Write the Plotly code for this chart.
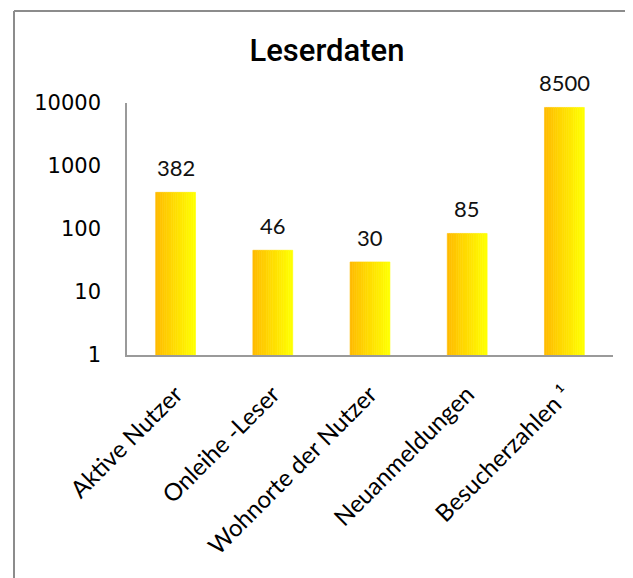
import numpy as np
import plotly.graph_objects as go

categories = ["Aktive Nutzer", "Onleihe -Leser", "Wohnorte der Nutzer", "Neuanmeldungen", "Besucherzahlen ¹"]
values = [382, 46, 30, 85, 8500]
value_labels = ["382", "46", "30", "85", "8500"]
tick_vals = [1, 10, 100, 1000, 10000]
tick_text = ["1", "10", "100", "1000", "10000"]

# page body adds an 8px offset; work in shifted pixel coordinates
OFF = 8
W, H = 633, 578
ML, MT = 127 - OFF, 103 - OFF
PLOT_R, PLOT_B = 613 - OFF, 355 - OFF
MR, MB = W - PLOT_R, H - PLOT_B
PW, PH = W - ML - MR, H - MT - MB

def px_x(p):
    return (p - OFF - ML) / PW

def px_y(p):
    return (H - MB - (p - OFF)) / PH

fig = go.Figure()

N = 18
bar_width = 0.41
c0 = np.array([255, 188, 0])
c1 = np.array([255, 255, 0])
for k in range(N):
    t = k / (N - 1)
    c = (c0 + (c1 - c0) * t).round().astype(int)
    col = f"rgb({c[0]},{c[1]},{c[2]})"
    fig.add_trace(go.Bar(
        x=categories, y=values,
        width=bar_width / N,
        offset=-bar_width / 2 + k * bar_width / N,
        marker=dict(color=col, line=dict(width=0.6, color=col)),
        showlegend=False, hoverinfo="skip",
    ))

annotations = []
for cat, v, lab in zip(categories, values, value_labels):
    annotations.append(dict(
        x=cat, y=np.log10(v), xref="x", yref="y",
        text=lab, showarrow=False, yanchor="bottom", yshift=9,
        font=dict(family="Lato", size=22, color="#111"),
    ))

border = "#8c8c8c"
shapes = [
    dict(type="line", xref="paper", yref="paper",
         x0=px_x(14), x1=px_x(14), y0=px_y(11), y1=px_y(H + 20),
         line=dict(color=border, width=2)),
    dict(type="line", xref="paper", yref="paper",
         x0=px_x(14), x1=px_x(W + 20), y0=px_y(11), y1=px_y(11),
         line=dict(color=border, width=2)),
]

fig.update_layout(
    width=W, height=H,
    margin=dict(l=ML, r=MR, t=MT, b=MB),
    paper_bgcolor="white", plot_bgcolor="white",
    barmode="overlay",
    title=dict(text="Leserdaten", x=(327 - OFF) / W, xanchor="center",
               y=1 - (50 - OFF) / H, yanchor="middle", xref="container", yref="container",
               font=dict(family="Roboto", size=31, weight=500, color="#000")),
    annotations=annotations,
    shapes=shapes,
    xaxis=dict(range=[-0.5, 4.5], showline=True, linecolor="#9a9a9a", linewidth=1.5,
               showgrid=False, ticks="", tickangle=-45, ticklabelstandoff=14,
               tickfont=dict(family="Lato", size=24, color="#000")),
    yaxis=dict(type="log", range=[0, 4], tickvals=tick_vals, ticktext=tick_text,
               showline=True, linecolor="#9a9a9a", linewidth=1.5, showgrid=False,
               ticks="", ticklabelstandoff=20, zeroline=False,
               tickfont=dict(family="DejaVu Sans", size=21, color="#000")),
)

fig.write_html("out.html")
